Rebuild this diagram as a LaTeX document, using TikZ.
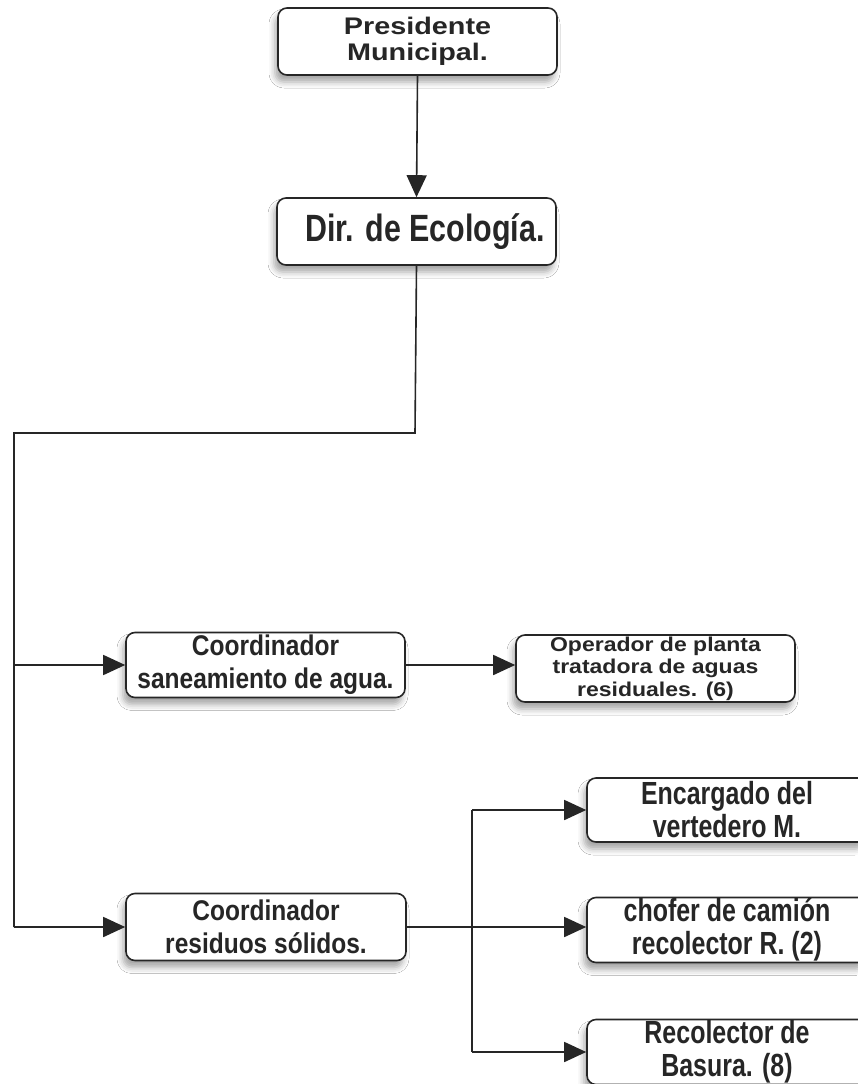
\documentclass[tikz,border=0pt]{standalone}
\usepackage{fontspec}
\usetikzlibrary{arrows.meta,shadows.blur}
\newfontfamily\fpres[FakeStretch=1.2]{Liberation Sans}
\newfontfamily\fop[FakeStretch=1.15]{Liberation Sans}
\newfontfamily\fdir[FakeStretch=0.8]{Liberation Sans}
\newfontfamily\fco[FakeStretch=0.86]{Liberation Sans}
\newfontfamily\fsub[FakeStretch=0.78]{Liberation Sans}
\tikzset{
  box/.style={draw=black!85, line width=1.6pt, rounded corners=9pt, fill=white,
    align=center, inner sep=0pt, text=black!85,
    blur shadow={shadow xshift=-3pt, shadow yshift=-7pt, shadow blur radius=6pt, shadow opacity=35}},
  conn/.style={line width=1.6pt, draw=black!85},
  arr/.style={conn, -{Triangle[length=22pt,width=20pt]}}
}
\begin{document}
\begin{tikzpicture}[x=1pt,y=-1pt]
\fill[white] (0,0) rectangle (857,1084);
\useasboundingbox (0,0) rectangle (857,1084);
\node[box, minimum width=279pt, minimum height=67pt,
  font=\fontsize{24}{26}\selectfont\fpres\bfseries] (pres) at (417.5,41.5) {Presidente\\Municipal.};
\node[box, minimum width=279pt, minimum height=67pt,
  font=\fontsize{38}{40}\selectfont\fdir\bfseries] (dir) at (416.5,231.5) {\hspace*{17pt}Dir. de Ecología.};
\node[box, minimum width=279pt, minimum height=65pt,
  font=\fontsize{28.5}{33}\selectfont\fco\bfseries] (c1) at (265.5,665) {Coordinador\\saneamiento de agua.};
\node[box, minimum width=279pt, minimum height=67pt,
  font=\fontsize{20}{22.5}\selectfont\fop\bfseries] (op) at (655.5,668.5) {Operador de planta\\tratadora de aguas\\residuales. (6)};
\node[box, minimum width=280pt, minimum height=67pt,
  font=\fontsize{28.5}{33}\selectfont\fco\bfseries] (c2) at (266,927) {Coordinador\\residuos sólidos.};
\node[box, minimum width=280pt, minimum height=64pt,
  font=\fontsize{32}{33}\selectfont\fsub\bfseries] (enc) at (727,810) {Encargado del\\vertedero M.};
\node[box, minimum width=280pt, minimum height=65pt,
  font=\fontsize{32}{33}\selectfont\fsub\bfseries] (cho) at (727,930) {chofer de camión\\recolector R. (2)};
\node[box, minimum width=280pt, minimum height=65pt,
  font=\fontsize{32}{33}\selectfont\fsub\bfseries] (rec) at (727,1052) {Recolector de\\Basura. (8)};
\coordinate (j1) at (415,433);
\coordinate (j2) at (14,433);
\coordinate (b) at (472,927);
\draw[arr] (pres.south) -- (dir.north);
\draw[conn] (dir.south) -- (j1) -- (j2) -- (j2 |- c2.west);
\draw[arr] (j2 |- c1.west) -- (c1.west);
\draw[arr] (j2 |- c2.west) -- (c2.west);
\draw[arr] (c1.east) -- (c1.east -| op.west);
\draw[arr] (c2.east) -- (c2.east -| cho.west);
\draw[conn] (b |- enc.west) -- (b |- rec.west);
\draw[arr] (b |- enc.west) -- (enc.west);
\draw[arr] (b |- rec.west) -- (rec.west);
\end{tikzpicture}
\end{document}
